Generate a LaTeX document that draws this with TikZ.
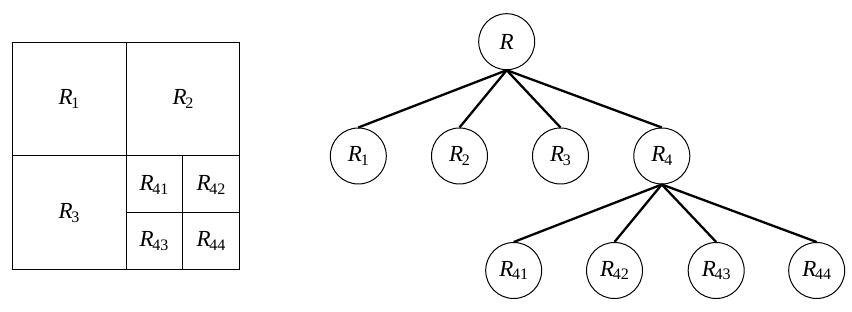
\documentclass[tikz,border=0pt]{standalone}
\usepackage{fontspec}
\setmainfont{Liberation Serif}
\newcommand{\Rlab}[1]{\textit{R}\kern-0.05em\raisebox{-0.35ex}{\fontsize{16}{16}\selectfont #1}}
\begin{document}
\begin{tikzpicture}[x=1pt,y=-1pt,
  lab/.style={font=\fontsize{23}{23}\selectfont, inner sep=0pt},
  tnode/.style={circle, draw, line width=1pt, minimum size=56pt, inner sep=0pt, font=\fontsize{23}{23}\selectfont},
  edge/.style={line width=2.3pt}]
\useasboundingbox (0,0) rectangle (852,312);
% grid
\draw[line width=1pt] (12.7,42.7) rectangle (239.3,269.3);
\draw[line width=1pt] (126,42.7) -- (126,269.3);
\draw[line width=1pt] (12.7,156) -- (239.3,156);
\draw[line width=1pt] (182.7,156) -- (182.7,269.3);
\draw[line width=1pt] (126,212.7) -- (239.3,212.7);
\node[lab] (g1) at (69,99) {\Rlab{1}};
\node[lab] (g2) at (183,99) {\Rlab{2}};
\node[lab] (g3) at (69,213) {\Rlab{3}};
\node[lab] (g41) at (154,185) {\Rlab{41}};
\node[lab] (g42) at (211,185) {\Rlab{42}};
\node[lab] (g43) at (154,241) {\Rlab{43}};
\node[lab] (g44) at (211,241) {\Rlab{44}};
% tree
\node[tnode] (R) at (506.7,41.7) {\textit{R}};
\node[tnode] (R1) at (358.3,156) {\Rlab{1}};
\node[tnode] (R2) at (459.5,156) {\Rlab{2}};
\node[tnode] (R3) at (560.5,156) {\Rlab{3}};
\node[tnode] (R4) at (661.8,156) {\Rlab{4}};
\node[tnode] (R41) at (513.7,270.5) {\Rlab{41}};
\node[tnode] (R42) at (614.5,270.5) {\Rlab{42}};
\node[tnode] (R43) at (716.2,270.5) {\Rlab{43}};
\node[tnode] (R44) at (816.7,270.5) {\Rlab{44}};
\foreach \c in {R1,R2,R3,R4} \draw[edge] (R.south) -- (\c.north);
\foreach \c in {R41,R42,R43,R44} \draw[edge] (R4.south) -- (\c.north);
\end{tikzpicture}
\end{document}
